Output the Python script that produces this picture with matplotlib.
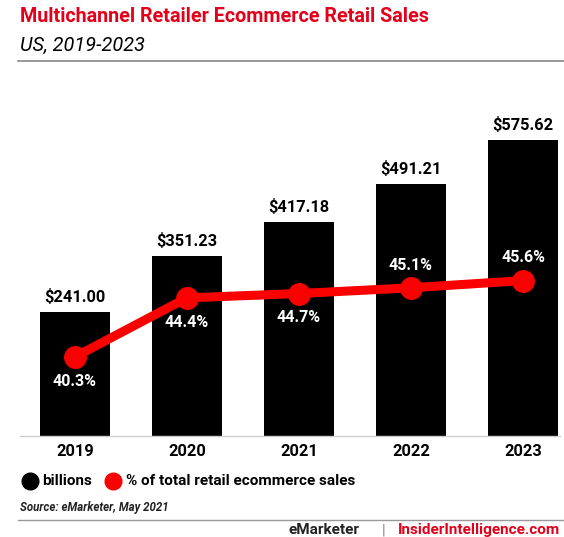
import matplotlib.pyplot as plt
from matplotlib.lines import Line2D

plt.rcParams['font.family'] = ['Roboto', 'DejaVu Sans']

years = ["2019", "2020", "2021", "2022", "2023"]
sales = [241.00, 351.23, 417.18, 491.21, 575.62]
share = [40.3, 44.4, 44.7, 45.1, 45.6]
share_above = [False, False, False, True, True]

RED = "#e2001a"
LINE_RED = "#fa0000"

fig = plt.figure(figsize=(5.64, 5.37), dpi=100)
W, H = 564, 537

def fx(px):
    return px / W

def fy(py):
    return 1 - py / H

# plot area: left 20px, right 560px, top 100px, bottom 436px
ax = fig.add_axes([fx(20), fy(436), fx(540), (436 - 100) / H])
x = list(range(len(years)))
ax.bar(x, sales, width=0.63, color="black", zorder=2)
for xi, v in zip(x, sales):
    ax.annotate(f"${v:.2f}", (xi, v), xytext=(0, 5), textcoords="offset points",
                ha="center", va="bottom", fontsize=11.8, fontweight="bold")
ax.set_xlim(-0.49, 4.33)
ax.set_ylim(0, 654)
ax.set_yticks([])
ax.set_xticks(x)
ax.set_xticklabels(years, fontsize=11.8, fontweight="bold")
ax.tick_params(axis="x", length=0, pad=6)
for s in ["top", "right", "left"]:
    ax.spines[s].set_visible(False)
ax.spines["bottom"].set_color("#cccccc")
ax.spines["bottom"].set_linewidth(1)

ax2 = ax.twinx()
ax2.plot(x, share, color=LINE_RED, lw=6.5, marker="o", markersize=15.5, zorder=3,
         solid_capstyle="round")
for xi, v, up in zip(x, share, share_above):
    off = 11 if up else -12
    ax2.annotate(f"{v:.1f}%", (xi, v), xytext=(0, off), textcoords="offset points",
                 ha="center", va="bottom" if up else "top", color="white",
                 fontsize=11.5, fontweight="bold")
ax2.set_ylim(34.8, 58.15)
ax2.axis("off")

# title block
fig.text(fx(20), fy(17), "Multichannel Retailer Ecommerce Retail Sales", color=RED,
         fontsize=14.2, fontweight="bold", va="center")
fig.text(fx(20), fy(45), "US, 2019-2023", fontsize=14.3, style="italic", va="center")
fig.add_artist(Line2D([fx(18), 1], [fy(61), fy(61)], color="#888888", lw=1.2))

# legend
fig.add_artist(Line2D([fx(30)], [fy(481)], marker="o", markersize=12, color="black", lw=0))
fig.text(fx(42), fy(481), "billions", fontsize=11, fontweight="bold", va="center")
fig.add_artist(Line2D([fx(113)], [fy(481)], marker="o", markersize=12, color=LINE_RED, lw=0))
fig.text(fx(126), fy(481), "% of total retail ecommerce sales", fontsize=11,
         fontweight="bold", va="center")

# source and footer
fig.text(fx(20), fy(508), "Source: eMarketer, May 2021", fontsize=8.3, style="italic",
         fontweight="bold", va="center", color="#222222")
fig.add_artist(Line2D([fx(18), 1], [fy(520), fy(520)], color="#999999", lw=1))
fig.text(fx(288), fy(530), "eMarketer", fontsize=11, fontweight="bold", va="center",
         color="#222222")
fig.text(fx(382), fy(530), "|", fontsize=11, va="center", color="#888888")
fig.text(fx(560), fy(530), "InsiderIntelligence.com", fontsize=11, fontweight="bold",
         va="center", ha="right", color=RED)

fig.savefig("out.png", dpi=100)
